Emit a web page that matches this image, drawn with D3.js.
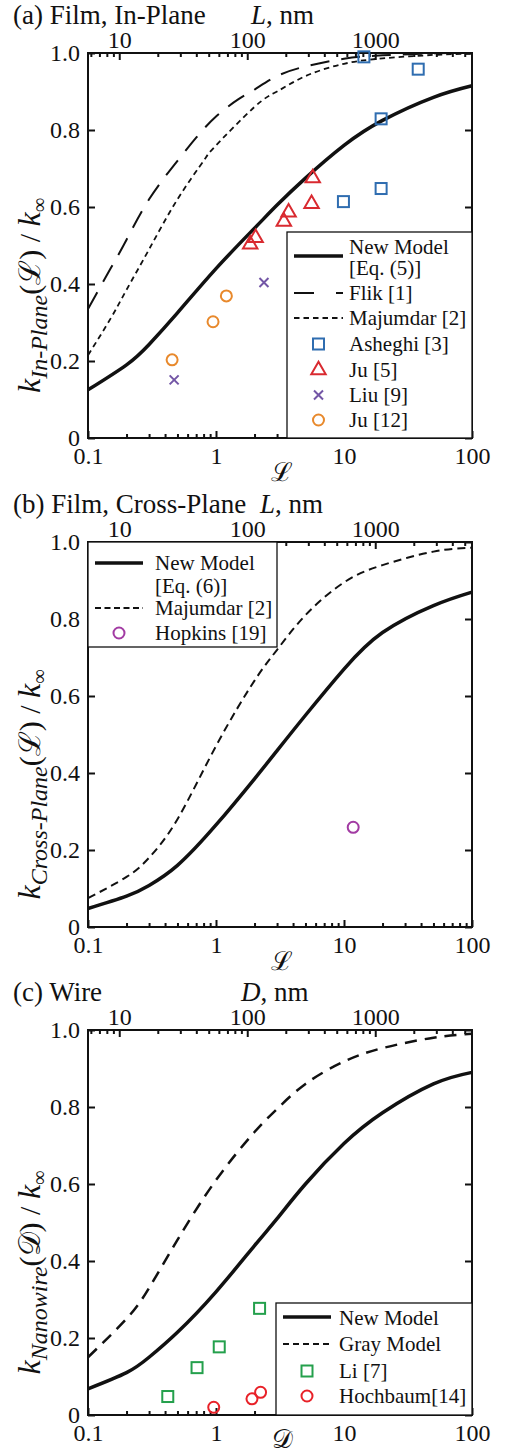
<!DOCTYPE html>
<meta charset="utf-8">
<style>
body { margin: 0; background: #fff; }
svg text { font-family: "Liberation Serif", "Times New Roman", serif; fill: #111; }
.tick line { stroke: #111; stroke-width: 2px; }
.tick text { font-size: 24px; font-family: "Liberation Serif", "Times New Roman", serif; fill: #111; }
.frame { fill: none; stroke: #111; stroke-width: 2px; }
.lg { font-size: 21px; }
</style>
<svg width="510" height="1456"></svg>
<script src="https://d3js.org/d3.v7.min.js"></script>
<script>
// ---------- data ----------
var gridL = [0.1, 0.2, 0.3, 0.5, 1, 2, 3, 5, 10, 20, 50, 100];

// (a) film, in-plane
var newModelA = [0.125, 0.19, 0.243, 0.325, 0.44, 0.545, 0.605, 0.675, 0.76, 0.825, 0.885, 0.915];
var flikL = [0.1, 0.15, 0.2, 0.3, 0.5, 0.7, 1, 1.5, 2, 3, 5, 10, 20, 50, 100];
var flikA = [0.335, 0.44, 0.515, 0.62, 0.72, 0.78, 0.835, 0.88, 0.905, 0.94, 0.965, 0.985, 0.994, 0.999, 1.0];
var majumdarL = [0.1, 0.15, 0.2, 0.3, 0.5, 0.8, 1, 2, 3, 5, 10, 20, 50, 100];
var majumdarA = [0.215, 0.31, 0.385, 0.49, 0.62, 0.72, 0.76, 0.86, 0.9, 0.94, 0.972, 0.986, 0.995, 0.998];
var asheghiL = [38, 19.5, 19.5, 9.9, 14.3];
var asheghiK = [0.958, 0.829, 0.648, 0.614, 0.99];
var ju5L = [5.7, 5.58, 3.69, 3.39, 2.04, 1.85];
var ju5K = [0.675, 0.608, 0.586, 0.562, 0.52, 0.503];
var liuL = [2.37, 0.471];
var liuK = [0.404, 0.151];
var ju12L = [1.205, 0.948, 0.454];
var ju12K = [0.369, 0.302, 0.203];

// (b) film, cross-plane
var newModelB = [0.048, 0.08, 0.108, 0.16, 0.265, 0.385, 0.458, 0.55, 0.67, 0.765, 0.835, 0.87];
var majumdarB = [0.075, 0.13, 0.18, 0.28, 0.47, 0.64, 0.72, 0.81, 0.895, 0.94, 0.975, 0.985];
var hopkinsL = [11.8];
var hopkinsK = [0.259];

// (c) wire
var newModelC = [0.068, 0.11, 0.15, 0.215, 0.32, 0.44, 0.51, 0.6, 0.705, 0.785, 0.86, 0.89];
var grayModelC = [0.15, 0.25, 0.33, 0.455, 0.61, 0.735, 0.795, 0.86, 0.918, 0.953, 0.98, 0.99];
var liD = [2.19, 1.06, 0.711, 0.42];
var liK = [0.277, 0.177, 0.123, 0.048];
var hochD = [0.96, 1.91, 2.23];
var hochK = [0.02, 0.042, 0.059];

// axis ticks
var bottomTicks = [0.1, 1, 10, 100];
var topTicks = [10, 100, 1000];
var yTicks = [0, 0.2, 0.4, 0.6, 0.8, 1.0];
var nmPerUnit = 57;   // L (nm) per unit of script-L on the top axis

// ---------- layout ----------
var svg = d3.select("svg");
var left = 88, right = 472, plotH = 385;
var x = d3.scaleLog().domain([0.1, 100]).range([left, right]);
var xTop = d3.scaleLog().domain([0.1 * nmPerUnit, 100 * nmPerUnit]).range([left, right]);

var minorBottom = [], minorTop = [];
[0.1, 1, 10].forEach(function(d) { for (var i = 2; i < 10; i++) minorBottom.push(d * i); });
[1, 10, 100, 1000].forEach(function(d) {
  for (var i = 2; i < 10; i++) { var v = d * i; if (v > 0.1 * nmPerUnit && v < 100 * nmPerUnit) minorTop.push(v); }
});

var colors = { asheghi: "#2f6db0", ju5: "#d92a30", liu: "#7356a6", ju12: "#e8892c",
               hopkins: "#a23ba3", li: "#24a04c", hoch: "#e82128" };

function zip(xs, ys) { return xs.map(function(d, i) { return [d, ys[i]]; }); }

function makePanel(top) {
  var y = d3.scaleLinear().domain([0, 1]).range([top + plotH, top]);
  var g = svg.append("g");
  var fmtB = function(d) { return d < 1 ? "0.1" : String(d); };

  g.append("g").attr("transform", "translate(0," + (top + plotH) + ")")
    .call(d3.axisBottom(x).tickValues(bottomTicks).tickFormat(fmtB).tickSize(-7).tickPadding(9))
    .call(function(a) { a.select(".domain").remove(); });
  g.append("g").attr("transform", "translate(0," + (top + plotH) + ")")
    .call(d3.axisBottom(x).tickValues(minorBottom).tickFormat("").tickSize(-4))
    .call(function(a) { a.select(".domain").remove(); });
  g.append("g").attr("transform", "translate(0," + top + ")")
    .call(d3.axisTop(xTop).tickValues(topTicks).tickFormat(d3.format("d")).tickSize(-7).tickPadding(5))
    .call(function(a) { a.select(".domain").remove(); });
  g.append("g").attr("transform", "translate(0," + top + ")")
    .call(d3.axisTop(xTop).tickValues(minorTop).tickFormat("").tickSize(-4))
    .call(function(a) { a.select(".domain").remove(); });
  g.append("g").attr("transform", "translate(" + left + ",0)")
    .call(d3.axisLeft(y).tickValues(yTicks).tickFormat(function(d) { return d === 0 ? "0" : d3.format(".1f")(d); })
      .tickSize(-7).tickPadding(8))
    .call(function(a) { a.select(".domain").remove(); });
  g.append("g").attr("transform", "translate(" + right + ",0)")
    .call(d3.axisRight(y).tickValues(yTicks).tickFormat("").tickSize(-7))
    .call(function(a) { a.select(".domain").remove(); });

  g.append("rect").attr("class", "frame")
    .attr("x", left).attr("y", top).attr("width", right - left).attr("height", plotH);
  return { g: g, y: y, top: top };
}

function curve(p, xs, ys, width, dash) {
  var line = d3.line().x(function(d) { return x(d[0]); }).y(function(d) { return p.y(d[1]); })
    .curve(d3.curveNatural);
  p.g.append("path").datum(zip(xs, ys)).attr("d", line)
    .attr("fill", "none").attr("stroke", "#111").attr("stroke-width", width)
    .attr("stroke-dasharray", dash || null);
}

function marker(g, kind, color, cx, cy) {
  if (kind === "square") {
    g.append("rect").attr("x", cx - 5.5).attr("y", cy - 5.5).attr("width", 11).attr("height", 11)
      .attr("fill", "none").attr("stroke", color).attr("stroke-width", 2);
  } else if (kind === "circle") {
    g.append("circle").attr("cx", cx).attr("cy", cy).attr("r", 5.5)
      .attr("fill", "none").attr("stroke", color).attr("stroke-width", 2);
  } else if (kind === "triangle") {
    g.append("path").attr("d", d3.symbol(d3.symbolTriangle, 90)())
      .attr("transform", "translate(" + cx + "," + cy + ")")
      .attr("fill", "none").attr("stroke", color).attr("stroke-width", 2);
  } else if (kind === "cross") {
    g.append("path").attr("d", "M-4.5,-4.5L4.5,4.5M-4.5,4.5L4.5,-4.5")
      .attr("transform", "translate(" + cx + "," + cy + ")")
      .attr("fill", "none").attr("stroke", color).attr("stroke-width", 2);
  }
}

function points(p, xs, ys, kind, color) {
  zip(xs, ys).forEach(function(d) { marker(p.g, kind, color, x(d[0]), p.y(d[1])); });
}

function legend(p, box, sx0, sx1, tx, rows) {
  var g = p.g.append("g");
  g.append("rect").attr("x", box[0]).attr("y", box[1]).attr("width", box[2] - box[0]).attr("height", box[3] - box[1])
    .attr("fill", "#fff").attr("stroke", "#111").attr("stroke-width", 1.3);
  rows.forEach(function(r) {
    if (r.line) {
      g.append("line").attr("x1", sx0).attr("x2", sx1).attr("y1", r.ly).attr("y2", r.ly)
        .attr("stroke", "#111").attr("stroke-width", r.line[0]).attr("stroke-dasharray", r.line[1] || null);
    } else {
      marker(g, r.kind, r.color, (sx0 + sx1) / 2, r.ly);
    }
    r.text.forEach(function(t) {
      g.append("text").attr("class", "lg").attr("x", tx).attr("y", t[1])
        .attr("dominant-baseline", "central").text(t[0]);
    });
  });
}

function titles(p, label, axisVar, axisX, sub, xSym, xLabY) {
  var top = p.top;
  p.g.append("text").attr("x", 13).attr("y", top - 29).attr("font-size", 27).text(label);
  var t = p.g.append("text").attr("x", axisX).attr("y", top - 29).attr("font-size", 27);
  t.append("tspan").attr("font-style", "italic").text(axisVar);
  t.append("tspan").text(", nm");

  p.g.append("text").attr("x", 282).attr("y", top + plotH + xLabY).attr("text-anchor", "middle")
    .attr("font-size", 26).text(xSym);

  var yl = p.g.append("text").attr("text-anchor", "middle")
    .attr("transform", "translate(40," + (top + plotH / 2 + 50) + ") rotate(-90)");
  yl.append("tspan").attr("font-style", "italic").attr("font-size", 32).text("k");
  yl.append("tspan").attr("font-style", "italic").attr("font-size", 24).attr("dy", 7).text(sub);
  yl.append("tspan").attr("font-size", 30).attr("dy", -7).text("(" + xSym + ") / ");
  yl.append("tspan").attr("font-style", "italic").attr("font-size", 32).text("k");
  yl.append("tspan").attr("font-size", 20).attr("dy", 6).text("\u221e");
}

// ---------- (a) ----------
var pa = makePanel(53);
curve(pa, flikL, flikA, 2, "19,12");
curve(pa, majumdarL, majumdarA, 1.8, "5.5,4");
curve(pa, gridL, newModelA, 3.5);
points(pa, asheghiL, asheghiK, "square", colors.asheghi);
points(pa, ju5L, ju5K, "triangle", colors.ju5);
points(pa, liuL, liuK, "cross", colors.liu);
points(pa, ju12L, ju12K, "circle", colors.ju12);
legend(pa, [287, 232, 472, 438], 294, 343, 349, [
  { line: [3.5], ly: 256, text: [["New Model", 247], ["[Eq. (5)]", 268]] },
  { line: [2, "20,22"], ly: 293, text: [["Flik [1]", 293]] },
  { line: [1.8, "5.5,4"], ly: 318, text: [["Majumdar [2]", 318]] },
  { kind: "square", color: colors.asheghi, ly: 344, text: [["Asheghi [3]", 344]] },
  { kind: "triangle", color: colors.ju5, ly: 370, text: [["Ju [5]", 370]] },
  { kind: "cross", color: colors.liu, ly: 395, text: [["Liu [9]", 395]] },
  { kind: "circle", color: colors.ju12, ly: 420, text: [["Ju [12]", 420]] }
]);
titles(pa, "(a) Film, In-Plane", "L", 251, "In-Plane", "\u2112", 43);

// ---------- (b) ----------
var pb = makePanel(542);
curve(pb, gridL, majumdarB, 2, "8,5");
curve(pb, gridL, newModelB, 3.5);
points(pb, hopkinsL, hopkinsK, "circle", colors.hopkins);
legend(pb, [88, 542, 277, 647], 95, 143, 155, [
  { line: [3.5], ly: 563, text: [["New Model", 563], ["[Eq. (6)]", 586]] },
  { line: [2, "6,3.5"], ly: 608, text: [["Majumdar [2]", 608]] },
  { kind: "circle", color: colors.hopkins, ly: 633, text: [["Hopkins [19]", 633]] }
]);
titles(pb, "(b) Film, Cross-Plane", "L", 260, "Cross-Plane", "\u2112", 43);

// ---------- (c) ----------
var pc = makePanel(1030);
curve(pc, gridL, grayModelC, 2.5, "12,8");
curve(pc, gridL, newModelC, 3.5);
points(pc, liD, liK, "square", colors.li);
points(pc, hochD, hochK, "circle", colors.hoch);
legend(pc, [276, 1303, 472, 1415], 283, 331, 339, [
  { line: [3.5], ly: 1317, text: [["New Model", 1318]] },
  { line: [2, "6,4"], ly: 1344, text: [["Gray Model", 1344]] },
  { kind: "square", color: colors.li, ly: 1371, text: [["Li [7]", 1371]] },
  { kind: "circle", color: colors.hoch, ly: 1396, text: [["Hochbaum[14]", 1396]] }
]);
titles(pc, "(c) Wire", "D", 241, "Nanowire", "\ud835\udc9f", 33);
</script>
